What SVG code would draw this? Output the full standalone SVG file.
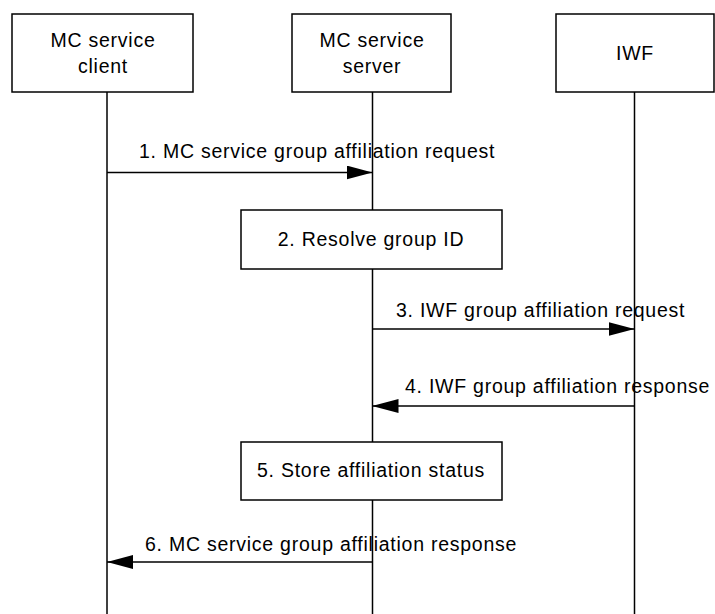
<svg xmlns="http://www.w3.org/2000/svg" width="715" height="614" viewBox="0 0 715 614">
<defs>
<style>
.box{fill:#fff;stroke:#000;stroke-width:1.5}
.life{stroke:#000;stroke-width:1.5;fill:none}
.msg{stroke:#000;stroke-width:1.5;fill:none;marker-end:url(#ah)}
text{font-family:"Liberation Sans",Arial,sans-serif;font-size:19.5px;letter-spacing:0.75px;fill:#000}
.c{text-anchor:middle}
</style>
<marker id="ah" markerUnits="userSpaceOnUse" markerWidth="26" markerHeight="14" refX="26" refY="7" orient="auto">
<path d="M0,0 L26,7 L0,14 z" fill="#000"/>
</marker>
</defs>
<g id="lifelines">
<line class="life" x1="107" y1="92" x2="107" y2="614"/>
<line class="life" x1="372.5" y1="92" x2="372.5" y2="614"/>
<line class="life" x1="634.5" y1="92" x2="634.5" y2="614"/>
</g>
<g id="client">
<rect class="box" x="12" y="14" width="181" height="78"/>
<text class="c" x="103" y="47">MC service</text>
<text class="c" x="103" y="73">client</text>
</g>
<g id="server">
<rect class="box" x="292" y="14" width="159" height="78"/>
<text class="c" x="372" y="47">MC service</text>
<text class="c" x="372" y="73">server</text>
</g>
<g id="iwf">
<rect class="box" x="556" y="14" width="158" height="78"/>
<text class="c" x="635" y="60">IWF</text>
</g>
<g id="step2">
<rect class="box" x="241" y="210" width="261" height="59"/>
<text class="c" x="371" y="246">2. Resolve group ID</text>
</g>
<g id="step5">
<rect class="box" x="241" y="442" width="261" height="58"/>
<text class="c" x="371" y="477">5. Store affiliation status</text>
</g>
<g id="connectors">
<line class="msg" x1="107" y1="172.5" x2="372.5" y2="172.5"/>
<line class="msg" x1="372.5" y1="329" x2="634.5" y2="329"/>
<line class="msg" x1="634.5" y1="406" x2="372.5" y2="406"/>
<line class="msg" x1="372.5" y1="562" x2="107" y2="562"/>
<text x="139" y="158">1. MC service group affiliation request</text>
<text x="396" y="317">3. IWF group affiliation request</text>
<text x="405" y="393">4. IWF group affiliation response</text>
<text x="145" y="551">6. MC service group affiliation response</text>
</g>
</svg>
